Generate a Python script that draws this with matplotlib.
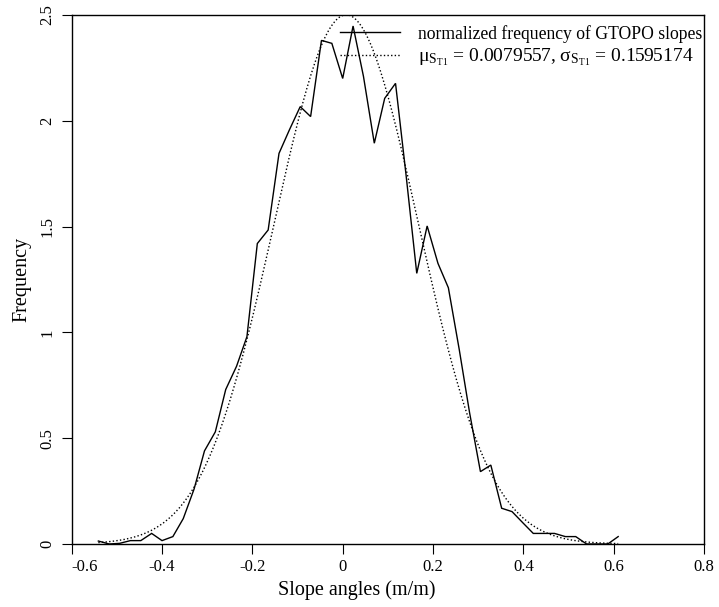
import numpy as np
import matplotlib
matplotlib.use("Agg")
import matplotlib.pyplot as plt

plt.rcParams['font.family'] = ['Liberation Serif', 'DejaVu Serif']
plt.rcParams['mathtext.fontset'] = 'custom'
plt.rcParams['mathtext.rm'] = 'Liberation Serif'
plt.rcParams['mathtext.it'] = 'Liberation Serif:italic'
plt.rcParams['mathtext.bf'] = 'Liberation Serif:bold'
plt.rcParams['axes.unicode_minus'] = False

# ---- data ----
slope_x = [-0.541, -0.517, -0.494, -0.470, -0.447, -0.423, -0.400, -0.376,
           -0.353, -0.329, -0.306, -0.282, -0.259, -0.235, -0.212, -0.189,
           -0.165, -0.141, -0.118, -0.094, -0.071, -0.047, -0.024, 0.000,
           0.023, 0.046, 0.070, 0.093, 0.117, 0.140, 0.164, 0.187,
           0.211, 0.234, 0.258, 0.281, 0.305, 0.328, 0.352, 0.375,
           0.399, 0.422, 0.446, 0.469, 0.493, 0.516, 0.540, 0.563,
           0.587, 0.610]
freq = [0.014, 0.000, 0.003, 0.016, 0.016, 0.050, 0.016, 0.035,
        0.120, 0.260, 0.440, 0.530, 0.730, 0.840, 0.980, 1.420,
        1.484, 1.846, 1.957, 2.067, 2.020, 2.380, 2.366, 2.200,
        2.448, 2.210, 1.894, 2.106, 2.177, 1.750, 1.279, 1.503,
        1.326, 1.211, 0.920, 0.620, 0.342, 0.373, 0.169, 0.153,
        0.100, 0.050, 0.050, 0.050, 0.035, 0.035, 0.000, 0.000,
        0.000, 0.035]
mu = 0.0079557
sigma = 0.1595174

x_ticks = [-0.6, -0.4, -0.2, 0.0, 0.2, 0.4, 0.6, 0.8]
x_tick_labels = ["-0.6", "-0.4", "-0.2", "0", "0.2", "0.4", "0.6", "0.8"]
y_ticks = [0, 0.5, 1, 1.5, 2, 2.5]
y_tick_labels = ["0", "0.5", "1", "1.5", "2", "2.5"]

# fitted normal density from the stated parameters
xs = np.linspace(min(slope_x), max(slope_x), 400)
pdf = np.exp(-0.5 * ((xs - mu) / sigma) ** 2) / (sigma * np.sqrt(2 * np.pi))

W, H = 719, 607
fig = plt.figure(figsize=(W / 100, H / 100), dpi=100)
ax = fig.add_axes([71.7 / W, 1 - 544 / H, (704 - 71.7) / W, (544 - 15) / H])

ax.plot(slope_x, freq, color='black', lw=1.0, solid_joinstyle='miter',
        label='normalized frequency of GTOPO slopes')
ax.plot(xs, pdf, color='black', lw=1.0, linestyle=(0, (1, 1.6)),
        label=r'$\mathrm{\mu}_{\mathrm{S}_{\mathrm{T1}}}$ = 0.0079557, '
              r'$\mathrm{\sigma}_{\mathrm{S}_{\mathrm{T1}}}$ = 0.1595174')

ax.set_xlim(-0.6, 0.8)
ax.set_ylim(0, 2.5)
ax.set_xticks(x_ticks)
ax.set_xticklabels(x_tick_labels, fontsize=12)
ax.set_yticks(y_ticks)
ax.set_yticklabels(y_tick_labels, fontsize=12, rotation=90, va='center')
ax.get_xticklabels()[0].set_ha('left')
ax.tick_params(direction='out', length=7, width=0.8, color='black')
ax.tick_params(axis='x', pad=3.5)
ax.tick_params(axis='y', pad=5)
for s in ax.spines.values():
    s.set_linewidth(1.0)

ax.set_xlabel('Slope angles (m/m)', fontsize=14.5)
ax.set_ylabel('Frequency', fontsize=14.5)
ax.xaxis.set_label_coords((357 - 71.7) / (704 - 71.7), -(590 - 544) / (544 - 15))
ax.xaxis.label.set_va('center')
ax.yaxis.set_label_coords(-(71.7 - 22) / (704 - 71.7), 0.5)
ax.yaxis.label.set_va('center')

leg = ax.legend(loc='upper right', bbox_to_anchor=(1.0133, 1.0),
                frameon=False, fontsize=12.7,
                handlelength=3.4, handletextpad=1.05, borderaxespad=0.0,
                borderpad=0.55, labelspacing=0.2)
leg.get_texts()[1].set_fontsize(14.0)

fig.savefig('out.png', dpi=100)
